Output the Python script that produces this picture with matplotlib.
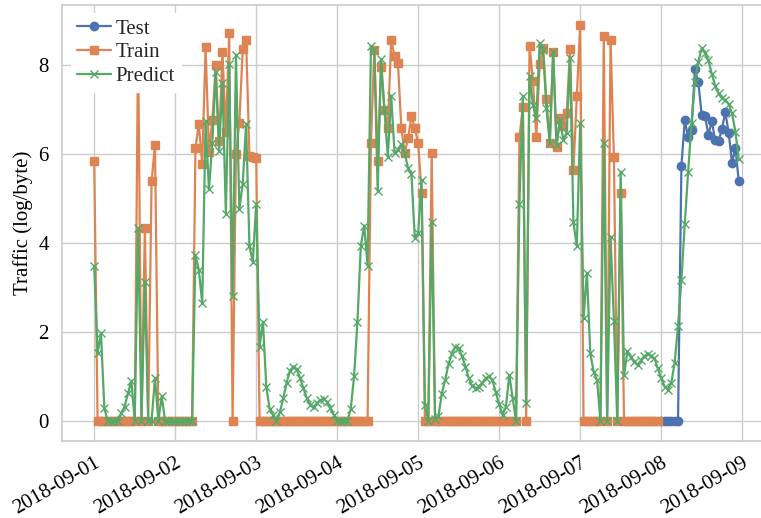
import numpy as np
import pandas as pd
import seaborn as sns
import matplotlib
matplotlib.use('Agg')
import matplotlib.pyplot as plt
import matplotlib.dates as mdates

sns.set_theme(style='whitegrid')
plt.rcParams['font.family'] = ['Liberation Serif', 'DejaVu Serif']

# hourly values, one row per day (log of bytes)
train = [
    5.85, 0, 0, 0, 0, 0, 0, 0, 0, 0, 0, 0, 0, 8.5, 0, 4.33, 0, 5.39, 6.19, 0, 0, 0, 0, 0,
    0, 0, 0, 0, 0, 0, 6.13, 6.67, 5.77, 8.4, 6.05, 6.75, 8.0, 6.28, 8.28, 6.49, 8.71, 0, 6.0, 6.7, 8.35, 8.56, 5.96, 5.94,
    5.9, 0, 0, 0, 0, 0, 0, 0, 0, 0, 0, 0, 0, 0, 0, 0, 0, 0, 0, 0, 0, 0, 0, 0,
    0, 0, 0, 0, 0, 0, 0, 0, 0, 0, 6.24, 8.34, 5.85, 7.96, 6.99, 6.58, 8.56, 8.19, 8.05, 6.58, 6.02, 6.35, 6.84, 6.58,
    6.24, 5.13, 0, 0, 6.02, 0, 0, 0, 0, 0, 0, 0, 0, 0, 0, 0, 0, 0, 0, 0, 0, 0, 0, 0,
    0, 0, 0, 0, 0, 0, 6.37, 7.05, 0, 8.43, 7.64, 6.37, 8.02, 8.37, 7.23, 6.25, 8.3, 6.16, 6.8, 6.63, 6.91, 8.35, 5.64, 7.29,
    8.9, 0, 0, 0, 0, 0, 0, 8.64, 0, 8.56, 5.94, 0, 5.13, 0, 0, 0, 0, 0, 0, 0, 0, 0, 0, 0,
]
test = [
    0, 0, 0, 0, 0, 0, 5.73, 6.75, 6.37, 6.54, 7.9, 7.62, 6.88, 6.84, 6.43, 6.73, 6.31, 6.28, 6.55, 6.94, 6.48, 5.8, 6.13, 5.38,
]
predict = [
    3.47, 1.52, 1.97, 0.28, 0, 0, 0, 0, 0.17, 0.32, 0.62, 0.9, 0, 4.33, 0, 3.13, 0, 0, 0.97, 0, 0.55, 0, 0, 0,
    0, 0, 0, 0, 0, 0, 3.73, 3.39, 2.64, 6.73, 5.2, 6.25, 7.83, 6.07, 7.6, 4.66, 8.03, 2.8, 8.23, 4.75, 5.33, 6.68, 3.93, 3.57,
    4.88, 1.67, 2.23, 0.76, 0.26, 0.13, 0, 0.19, 0.51, 0.85, 1.13, 1.22, 1.16, 0.96, 0.73, 0.51, 0.36, 0.31, 0.4, 0.47, 0.49, 0.43, 0.28, 0.13,
    0, 0, 0, 0, 0.26, 1.0, 2.23, 3.93, 4.39, 3.49, 8.43, 8.34, 5.17, 8.13, 6.99, 5.94, 7.31, 6.01, 6.09, 6.22, 6.01, 5.68, 5.55, 4.1,
    4.22, 5.42, 0.36, 0, 4.46, 0.05, 0.1, 0.61, 0.92, 1.28, 1.51, 1.67, 1.63, 1.45, 1.22, 0.96, 0.79, 0.73, 0.77, 0.86, 0.96, 1.0, 0.92, 0.64,
    0.37, 0.13, 0.32, 1.03, 0.51, 0, 4.88, 7.29, 0.4, 7.74, 7.1, 6.8, 8.49, 8.34, 7.03, 6.24, 8.3, 6.2, 6.76, 6.31, 6.48, 8.15, 4.46, 3.93,
    6.69, 2.31, 3.33, 1.52, 1.1, 0.92, 0, 6.24, 0, 4.14, 2.25, 0, 5.6, 1.03, 1.56, 1.43, 1.33, 1.26, 1.36, 1.45, 1.51, 1.46, 1.41, 1.18,
    0.96, 0.77, 0.7, 0.85, 1.31, 2.13, 3.17, 4.43, 5.6, 6.7, 7.62, 8.07, 8.37, 8.26, 8.1, 7.8, 7.53, 7.36, 7.25, 7.21, 7.12, 6.91, 6.5, 5.88,
]

t_all = pd.date_range('2018-09-01 00:00', periods=len(predict), freq='h')
t_train = t_all[:len(train)]
t_test = t_all[len(train):]

fig = plt.figure(figsize=(7.61, 5.18), dpi=100)
ax = fig.add_axes([62 / 761, 77.3 / 518, 709 / 761, 435.7 / 518])

ax.plot(t_test, test, marker='o', markersize=6, lw=1.6, color='#4C72B0', label='Test')
ax.plot(t_train, train, marker='s', markersize=6, lw=1.6, color='#DD8452', label='Train')
ax.plot(t_all, predict, marker='x', markersize=6, lw=1.6, color='#55A868', label='Predict')

ax.xaxis.set_major_locator(mdates.DayLocator())
ax.xaxis.set_major_formatter(mdates.DateFormatter('%Y-%m-%d'))
ax.set_yticks([0, 2, 4, 6, 8])
ax.tick_params(labelsize=15, colors='black')
plt.setp(ax.get_xticklabels(), rotation=30, ha='right', rotation_mode='anchor')
ax.set_ylabel('Traffic (log/byte)', fontsize=15, color='black')

leg = ax.legend(loc='upper left', bbox_to_anchor=(0.012, 0.982), fontsize=15,
                frameon=True, framealpha=1, edgecolor='white', borderaxespad=0,
                borderpad=0.3, handlelength=1.65, handletextpad=0.2,
                labelspacing=0.2)

fig.savefig('out.png', dpi=100)
